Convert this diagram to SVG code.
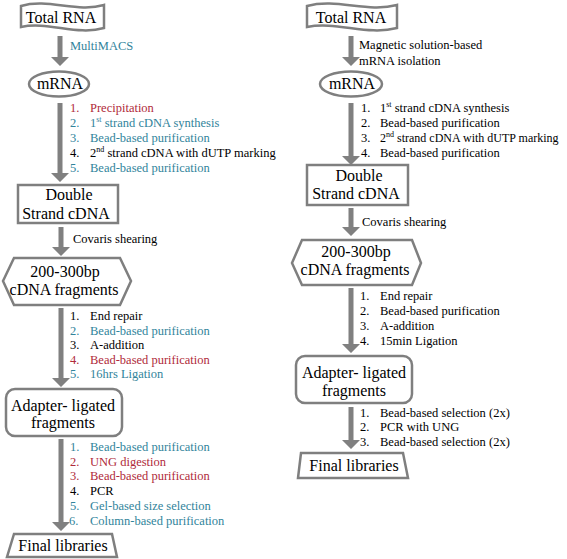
<svg xmlns="http://www.w3.org/2000/svg" width="567" height="559" viewBox="0 0 567 559">
<style>
.node{fill:#fff;stroke:#7f7f7f;stroke-width:2.5}
.lbl{font-family:'Liberation Serif','Times New Roman','DejaVu Serif',serif;font-size:16px;fill:#000;text-anchor:middle}
.step{font-family:'Liberation Serif','Times New Roman','DejaVu Serif',serif;font-size:12.5px;fill:#000}
.teal{fill:#31849B}
.red{fill:#B02A3A}
.arrow{fill:#808080}
.sup{font-size:8px}
</style>
<rect width="567" height="559" fill="#fff"/>
<g id="connectors">
<path class="arrow" d="M57.5,36 h5 v21 h6.5 l-9,9 l-9,-9 h6.5 z"/>
<path class="arrow" d="M57.5,103 h5 v70 h6.5 l-9,9 l-9,-9 h6.5 z"/>
<path class="arrow" d="M58.5,227 h5 v20 h6.5 l-9,9 l-9,-9 h6.5 z"/>
<path class="arrow" d="M58.5,308 h5 v70 h6.5 l-9,9 l-9,-9 h6.5 z"/>
<path class="arrow" d="M58.5,439 h5 v83 h6.5 l-9,9 l-9,-9 h6.5 z"/>
<path class="arrow" d="M348.5,36 h5 v21 h6.5 l-9,9 l-9,-9 h6.5 z"/>
<path class="arrow" d="M348.5,103 h5 v53 h6.5 l-9,9 l-9,-9 h6.5 z"/>
<path class="arrow" d="M348.5,208 h5 v19 h6.5 l-9,9 l-9,-9 h6.5 z"/>
<path class="arrow" d="M348.5,288 h5 v56 h6.5 l-9,9 l-9,-9 h6.5 z"/>
<path class="arrow" d="M348.5,407 h5 v33 h6.5 l-9,9 l-9,-9 h6.5 z"/>
</g>
<g id="labels-left">
<text class="step teal" x="70" y="50">MultiMACS</text>
<text class="step red" x="70" y="112">1.</text><text class="step red" x="90" y="112">Precipitation</text>
<text class="step teal" x="70" y="127">2.</text><text class="step teal" x="90" y="127">1<tspan class="sup" dy="-5">st</tspan><tspan dy="5"> strand cDNA synthesis</tspan></text>
<text class="step teal" x="70" y="142">3.</text><text class="step teal" x="90" y="142">Bead-based purification</text>
<text class="step" x="70" y="157">4.</text><text class="step" x="90" y="157">2<tspan class="sup" dy="-5">nd</tspan><tspan dy="5"> strand cDNA with dUTP marking</tspan></text>
<text class="step teal" x="70" y="172">5.</text><text class="step teal" x="90" y="172">Bead-based purification</text>
<text class="step" x="73" y="243">Covaris shearing</text>
<text class="step" x="70" y="320">1.</text><text class="step" x="90" y="320">End repair</text>
<text class="step teal" x="70" y="335">2.</text><text class="step teal" x="90" y="335">Bead-based purification</text>
<text class="step" x="70" y="349">3.</text><text class="step" x="90" y="349">A-addition</text>
<text class="step red" x="70" y="364">4.</text><text class="step red" x="90" y="364">Bead-based purification</text>
<text class="step teal" x="70" y="378">5.</text><text class="step teal" x="90" y="378">16hrs Ligation</text>
<text class="step teal" x="70" y="451">1.</text><text class="step teal" x="90" y="451">Bead-based purification</text>
<text class="step red" x="70" y="466">2.</text><text class="step red" x="90" y="466">UNG digestion</text>
<text class="step red" x="70" y="480">3.</text><text class="step red" x="90" y="480">Bead-based purification</text>
<text class="step" x="70" y="495">4.</text><text class="step" x="90" y="495">PCR</text>
<text class="step teal" x="70" y="510">5.</text><text class="step teal" x="90" y="510">Gel-based size selection</text>
<text class="step teal" x="69" y="525">6.</text><text class="step teal" x="90" y="525">Column-based purification</text>
</g>
<g id="labels-right">
<text class="step" x="359" y="49">Magnetic solution-based</text>
<text class="step" x="359" y="65">mRNA isolation</text>
<text class="step" x="361" y="112">1.</text><text class="step" x="380" y="112">1<tspan class="sup" dy="-5">st</tspan><tspan dy="5"> strand cDNA synthesis</tspan></text>
<text class="step" x="361" y="127">2.</text><text class="step" x="380" y="127">Bead-based purification</text>
<text class="step" x="361" y="142">3.</text><text class="step" x="380" y="142" style="font-size:12px">2<tspan class="sup" dy="-5">nd</tspan><tspan dy="5"> strand cDNA with dUTP marking</tspan></text>
<text class="step" x="361" y="157">4.</text><text class="step" x="380" y="157">Bead-based purification</text>
<text class="step" x="362" y="226">Covaris shearing</text>
<text class="step" x="360" y="300">1.</text><text class="step" x="380" y="300">End repair</text>
<text class="step" x="360" y="315">2.</text><text class="step" x="380" y="315">Bead-based purification</text>
<text class="step" x="360" y="330">3.</text><text class="step" x="380" y="330">A-addition</text>
<text class="step" x="360" y="345">4.</text><text class="step" x="380" y="345">15min Ligation</text>
<text class="step" x="360" y="417">1.</text><text class="step" x="380" y="417">Bead-based selection (2x)</text>
<text class="step" x="360" y="431">2.</text><text class="step" x="380" y="431">PCR with UNG</text>
<text class="step" x="360" y="446">3.</text><text class="step" x="380" y="446">Bead-based selection (2x)</text>
</g>
<g id="total-rna-left">
<path class="node" d="M21,6 C48,-2 77,13 104,5 L104,28 C77,36 48,21 21,27 Z"/>
<text class="lbl" x="61" y="23">Total RNA</text>
</g>
<g id="mrna-left">
<ellipse class="node" cx="59" cy="84" rx="30" ry="12.5"/>
<text class="lbl" x="60" y="89">mRNA</text>
</g>
<g id="dscdna-left">
<rect class="node" x="18" y="185" width="100" height="38"/>
<text class="lbl" x="69" y="200">Double</text>
<text class="lbl" x="66" y="219">Strand cDNA</text>
</g>
<g id="fragments-left">
<polygon class="node" points="3,281 14,258 120,258 131,281 120,305 14,305"/>
<text class="lbl" x="65" y="277">200-300bp</text>
<text class="lbl" x="64" y="295">cDNA fragments</text>
</g>
<g id="adapter-left">
<rect class="node" x="6" y="389" width="116" height="47" rx="9"/>
<text class="lbl" x="63" y="411">Adapter- ligated</text>
<text class="lbl" x="63" y="428">fragments</text>
</g>
<g id="final-left">
<polygon class="node" points="14,534 112,534 117,557 7,557"/>
<text class="lbl" x="63" y="551">Final libraries</text>
</g>
<g id="total-rna-right">
<path class="node" d="M307,6 C337,-2 367,13 397,5 L397,28 C367,36 337,21 307,27 Z"/>
<text class="lbl" x="351" y="23">Total RNA</text>
</g>
<g id="mrna-right">
<ellipse class="node" cx="351" cy="84" rx="31" ry="12.5"/>
<text class="lbl" x="352" y="89">mRNA</text>
</g>
<g id="dscdna-right">
<rect class="node" x="307" y="165" width="101" height="40"/>
<text class="lbl" x="359" y="181">Double</text>
<text class="lbl" x="356" y="199">Strand cDNA</text>
</g>
<g id="fragments-right">
<polygon class="node" points="292,263 302,240 412,240 421,263 412,285 302,285"/>
<text class="lbl" x="356" y="257">200-300bp</text>
<text class="lbl" x="355" y="275">cDNA fragments</text>
</g>
<g id="adapter-right">
<rect class="node" x="296" y="356" width="116" height="47" rx="9"/>
<text class="lbl" x="354" y="378">Adapter- ligated</text>
<text class="lbl" x="354" y="396">fragments</text>
</g>
<g id="final-right">
<polygon class="node" points="301,453 403,453 408,478 298,478"/>
<text class="lbl" x="354" y="471">Final libraries</text>
</g>
</svg>
